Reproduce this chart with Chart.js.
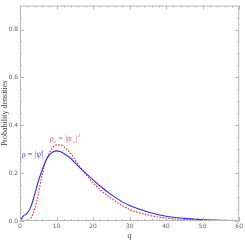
<!DOCTYPE html>
<html>
<head>
<meta charset="utf-8">
<script src="https://cdn.jsdelivr.net/npm/chart.js@4/dist/chart.umd.min.js"></script>
<style>
  html, body { margin: 0; padding: 0; background: #fff; }
  #wrap { width: 245px; height: 241px; position: relative; }
</style>
</head>
<body>
<div id="wrap"><canvas id="chart"></canvas></div>
<script>
// q samples and the two densities
const qBlue = [0, 0.5, 1, 1.5, 2, 3, 4, 5, 6, 7, 8, 9, 10, 11, 12, 14, 16, 18, 20, 22, 25, 28, 30, 35, 40, 45, 50, 55, 60];
const rhoBlue = [0, 0.012, 0.022, 0.028, 0.033, 0.06, 0.11, 0.165, 0.21, 0.25, 0.275, 0.288, 0.293, 0.29, 0.282, 0.26, 0.228, 0.2, 0.172, 0.145, 0.11, 0.08, 0.065, 0.038, 0.02, 0.011, 0.006, 0.003, 0.001];

const qRed = [0, 2, 2.5, 3, 4, 5, 6, 7, 8, 9, 10, 11, 12, 14, 16, 18, 20, 22, 25, 28, 30, 35, 40, 45, 50, 55, 60];
const rhoRed = [0, 0, 0.002, 0.012, 0.05, 0.11, 0.19, 0.245, 0.283, 0.308, 0.318, 0.318, 0.31, 0.28, 0.235, 0.195, 0.16, 0.13, 0.094, 0.064, 0.048, 0.025, 0.012, 0.006, 0.003, 0.001, 0];

const xTicks = [0, 10, 20, 30, 40, 50, 60];
const yTicks = [0, 0.2, 0.4, 0.6, 0.8];

const toPoints = (xs, ys) => xs.map((x, i) => ({ x: x, y: ys[i] }));

// frame with inward major/minor ticks, mathematica style
const framePlugin = {
  id: 'frame',
  afterDraw(chart) {
    const { ctx, chartArea: a, scales: { x, y } } = chart;
    ctx.save();
    ctx.strokeStyle = '#b8b8b8';
    ctx.lineWidth = 1;
    ctx.strokeRect(a.left + 0.5, a.top + 0.5, a.right - a.left - 1, a.bottom - a.top - 1);
    ctx.beginPath();
    for (let v = 0; v <= 60; v += 2) {
      const px = Math.round(x.getPixelForValue(v)) + 0.5;
      const len = v % 10 === 0 ? 4 : 2;
      ctx.moveTo(px, a.bottom); ctx.lineTo(px, a.bottom - len);
      ctx.moveTo(px, a.top); ctx.lineTo(px, a.top + len);
    }
    for (let v = 0; v <= 0.9; v += 0.05) {
      const py = Math.round(y.getPixelForValue(v)) + 0.5;
      const len = Math.round(v * 100) % 20 === 0 ? 4 : 2;
      ctx.moveTo(a.left, py); ctx.lineTo(a.left + len, py);
      ctx.moveTo(a.right, py); ctx.lineTo(a.right - len, py);
    }
    ctx.stroke();
    ctx.restore();
  }
};

const labelPlugin = {
  id: 'curveLabels',
  afterDatasetsDraw(chart) {
    const { ctx } = chart;
    const big = 'italic 7.5px "Liberation Serif"';
    const small = 'italic 4.5px "Liberation Serif"';
    ctx.save();
    ctx.textBaseline = 'alphabetic';
    ctx.font = big;
    ctx.fillStyle = '#3b3bff';
    ctx.fillText('\u03c1 = |\u03c8|', 22, 157);
    ctx.font = small;
    ctx.fillText('2', 41, 152.5);

    ctx.fillStyle = '#ff4a4a';
    ctx.font = big;
    ctx.fillText('\u03c1', 50, 141);
    ctx.font = small;
    ctx.fillText('c', 54, 143);
    ctx.font = big;
    ctx.fillText('= |\u03c8', 58, 141);
    ctx.font = small;
    ctx.fillText('c', 73, 143);
    ctx.font = big;
    ctx.fillText('|', 75.5, 141);
    ctx.font = small;
    ctx.fillText('2', 78, 136.5);
    ctx.restore();
  }
};

const tickFont = { family: 'DejaVu Sans', size: 6 };

new Chart(document.getElementById('chart'), {
  type: 'line',
  data: {
    datasets: [
      {
        label: 'rho',
        data: toPoints(qBlue, rhoBlue),
        borderColor: '#2b2bff',
        borderWidth: 1.1,
        pointRadius: 0,
        cubicInterpolationMode: 'monotone',
        fill: false
      },
      {
        label: 'rho_c',
        data: toPoints(qRed, rhoRed),
        borderColor: '#ff2020',
        borderWidth: 1.1,
        borderDash: [1.5, 1.5],
        pointRadius: 0,
        cubicInterpolationMode: 'monotone',
        fill: false
      }
    ]
  },
  options: {
    responsive: true,
    maintainAspectRatio: false,
    animation: false,
    layout: { padding: { top: 0, right: 3, left: 0, bottom: 0 } },
    plugins: { legend: { display: false }, tooltip: { enabled: false } },
    scales: {
      x: {
        type: 'linear',
        min: 0,
        max: 60,
        grid: { display: false, drawTicks: false },
        border: { display: false },
        afterBuildTicks: (s) => { s.ticks = xTicks.map(v => ({ value: v })); },
        afterFit: (s) => { s.height = 20; },
        ticks: { font: tickFont, color: '#666', padding: 2, maxRotation: 0 },
        title: {
          display: true,
          text: 'q',
          font: { family: 'Liberation Serif', size: 8, style: 'italic' },
          color: '#444',
          padding: 0
        }
      },
      y: {
        min: 0,
        max: 0.9,
        grid: { display: false, drawTicks: false },
        border: { display: false },
        afterBuildTicks: (s) => { s.ticks = yTicks.map(v => ({ value: v })); },
        afterFit: (s) => { s.width = 20; },
        ticks: {
          font: tickFont,
          color: '#666',
          padding: 2,
          callback: (v) => Number(v).toFixed(1)
        },
        title: {
          display: true,
          text: 'Probability densities',
          font: { family: 'Liberation Serif', size: 8 },
          color: '#444',
          padding: 0
        }
      }
    }
  },
  plugins: [framePlugin, labelPlugin]
});
</script>
</body>
</html>
